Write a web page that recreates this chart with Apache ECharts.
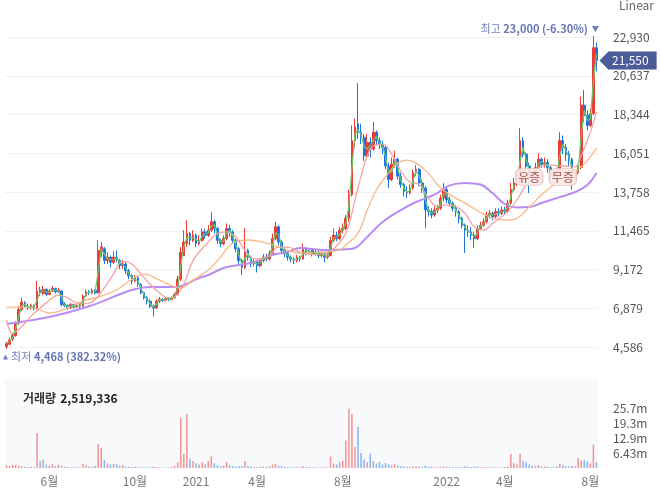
<!DOCTYPE html>
<html>
<head>
<meta charset="utf-8">
<script src="https://cdn.jsdelivr.net/npm/echarts@6/dist/echarts.min.js"></script>
<style>
html,body{margin:0;padding:0;background:#fff}
#chart{width:661px;height:494px}
</style>
</head>
<body>
<div id="chart"></div>
<script>
// 봉 하나 = 약 3거래일 (2020.4 ~ 2022.8)
var opens = [
    4600,4750,5050,5250,6000,6800,7200,7000,6900,7050,
    6850,7950,7750,8000,7700,7900,8050,7850,7900,7150,
    7050,6900,7100,6950,7050,7000,7600,7850,7800,7950,
    7800,10200,10400,9700,9900,9600,9900,9700,9400,9500,
    9100,8800,8500,8700,8300,7800,7500,7300,7000,6900,
    7300,7400,7350,7450,7400,7500,7700,8600,10000,10700,
    11300,10900,11200,10700,10900,11400,11200,11500,12000,11600,
    10900,10700,11000,11600,11400,10900,10400,9700,9300,10300,
    9900,9500,9600,9400,9700,9900,9800,10100,11000,11700,
    10800,10300,10100,9900,9800,9700,9900,9800,10400,10200,
    10300,10100,10200,10000,10100,9900,10000,10900,11200,11000,
    11500,11600,12200,13600,16800,17800,17300,17000,15900,16700,
    16300,17300,16800,16600,16400,15300,14500,15400,15700,14700,
    14200,13800,13700,14000,14900,15100,14300,14000,12700,12600,
    12400,12700,12800,13400,13900,13300,13100,12800,12600,12200,
    11800,11500,11400,11200,11000,11600,11800,12000,12400,12500,
    12300,12600,12500,12700,12600,13100,13900,14300,14400,16800,
    16000,15300,14800,14600,15200,15700,15400,15500,15200,14800,
    14500,15000,16800,16400,16000,15700,14600,14900,15200,18900,
    18300,17700,18400,22300
];
var closes = [
    4800,5000,5300,6000,6800,7250,7000,6900,7050,6850,
    7900,7800,8000,7700,7900,8050,7850,7950,7100,7050,
    6900,7100,6950,7050,7000,7600,7850,7800,7950,7800,
    10300,10500,9700,9900,9600,9900,9800,9400,9500,9100,
    8800,8500,8700,8300,7800,7500,7300,7000,6900,7300,
    7400,7350,7450,7400,7500,7700,8600,10200,10800,11300,
    10900,11200,10700,10900,11400,11200,11500,12000,11600,10900,
    10700,11000,11600,11400,10900,10400,9700,9300,10300,9900,
    9500,9600,9400,9700,9900,9800,10100,11000,11700,10800,
    10300,10100,9900,9800,9700,9900,9800,10400,10200,10300,
    10100,10200,10000,10100,9900,10000,10900,11200,11000,11500,
    11600,12200,13600,16800,17600,17300,17000,15900,16700,16300,
    17300,16800,16600,16400,15300,14500,15400,15700,14700,14200,
    13800,13700,14000,14900,15100,14300,14000,12700,12600,12400,
    12700,12800,13400,13900,13300,13100,12800,12600,12200,11800,
    11500,11400,11200,11000,11600,11800,12000,12400,12500,12300,
    12600,12500,12700,12600,13100,13900,14300,14400,16800,16000,
    15300,14800,14600,15200,15700,15400,15500,15200,14800,14500,
    15000,16800,16400,16000,15700,14600,14900,15200,18900,18300,
    17700,18400,22300,21550
];
var lows = [
    4468,4700,4950,5200,5900,6700,6900,6800,6800,6750,
    6800,7600,7650,7600,7650,7850,7750,7800,7000,6950,
    6800,6850,6850,6900,6900,6950,7550,7650,7700,7700,
    7750,9900,9500,9500,9300,9500,9600,9200,9200,8900,
    8600,8300,8400,8150,7700,7400,7100,6900,6400,6850,
    7200,7250,7300,7300,7350,7450,7650,8500,10200,10500,
    10600,10800,10500,10600,10800,11000,11100,11400,11300,10700,
    10500,10600,10900,11100,10700,10200,9500,8850,9200,9700,
    9300,9350,9000,9300,9600,9650,9700,10000,10900,10600,
    10200,9900,9700,9600,9500,9600,9650,9750,10000,10050,
    9950,10000,9850,9900,9600,9800,9950,10800,10850,10900,
    11300,11500,12000,13500,16400,16900,16600,15600,15700,15800,
    16200,16500,16300,16000,15100,14000,14400,15200,14500,14000,
    13500,13400,13600,13900,14700,14100,13700,11630,12300,12200,
    12300,12500,12700,13200,13100,12900,12600,12300,11900,11600,
    10150,11100,10900,10450,10900,11500,11700,11900,12200,12100,
    12200,12300,12400,12400,12500,13000,13800,14100,14300,15800,
    15000,13700,14300,14500,15100,15200,15200,14900,14500,14200,
    14300,14900,16000,15600,15300,13900,14500,14800,15100,17900,
    17400,17600,18300,20900
];
var highs = [
    4900,5150,5400,6100,7000,7500,7300,7150,7150,7100,
    8500,8150,8200,8050,8000,8200,8100,8100,7950,7250,
    7100,7200,7150,7150,7150,7700,8000,7950,8050,8000,
    10900,10800,10500,10200,10000,10250,10300,9800,9750,9600,
    9200,8900,8850,8750,8350,7850,7600,7400,7100,7400,
    7550,7500,7550,7550,7600,7800,8800,10500,11500,12100,
    11400,11500,11300,11200,11600,11600,11800,12570,12100,11700,
    11000,11200,11900,11800,11500,11000,10500,9800,11630,10400,
    10000,9800,9700,9850,10100,10100,10300,11300,12000,11800,
    10900,10500,10200,10000,9900,10050,10000,10700,10500,10450,
    10400,10350,10300,10300,10200,10200,11100,11600,11400,11700,
    11900,12400,13900,17700,18100,20200,17800,17200,17200,17000,
    17900,17400,17000,16800,16500,15500,15800,16200,15800,14900,
    14300,14100,14200,15100,15350,15200,14500,14100,12900,12800,
    12900,13000,13600,14290,14000,13500,13200,13000,12700,12300,
    11900,11800,11700,11400,11800,12000,12200,12600,12700,12600,
    12800,12800,12900,12900,13300,14300,14600,14700,17550,17000,
    16100,15500,15000,15500,16050,15800,15800,15700,15300,15000,
    15200,17300,17100,16600,16200,15800,15100,15400,19400,19790,
    18600,18700,23000,22600
];
// 거래량 (백만주)
var volumes = [
    1.2,0.9,1.4,1.3,1.1,0.8,0.5,0.4,0.5,0.4,
    15.0,3.0,3.6,1.5,1.0,1.6,0.8,1.4,1.0,0.6,
    0.4,0.3,0.3,0.3,0.3,1.7,1.2,0.6,0.5,1.0,
    10.3,8.6,3.5,2.0,1.5,1.8,1.6,1.0,1.3,0.6,
    0.5,0.4,0.5,0.3,0.3,0.2,0.3,0.3,0.6,0.4,
    0.3,0.2,0.3,0.2,0.5,1.0,2.5,21.4,6.0,23.1,
    4.0,3.0,2.0,1.5,2.5,1.5,3.0,5.0,2.0,1.2,
    0.8,1.0,2.6,1.2,0.8,0.6,0.7,0.9,3.0,1.0,
    0.6,0.5,0.4,0.5,0.6,0.5,0.8,1.5,1.8,1.0,
    0.8,0.5,0.4,0.3,0.3,0.3,0.3,0.8,0.5,0.4,
    0.3,0.3,0.2,0.3,0.3,0.3,5.0,2.0,1.5,2.5,
    3.0,11.7,25.4,23.1,9.0,17.6,6.4,3.5,2.5,6.1,
    3.0,2.0,2.5,1.5,2.2,1.6,1.2,1.5,1.0,0.8,
    0.6,0.5,0.5,0.8,0.7,0.5,0.5,1.0,0.6,0.5,
    0.4,0.3,0.5,0.8,0.5,0.4,0.3,0.3,0.3,0.4,
    0.8,0.5,0.4,0.6,0.5,0.4,0.3,0.4,0.3,0.3,
    0.3,0.3,0.3,0.4,0.6,6.0,2.0,1.5,6.1,3.0,
    2.5,1.5,1.0,0.8,1.2,0.6,0.7,0.5,0.4,0.4,
    0.8,1.8,1.2,0.8,0.6,0.9,0.7,4.3,3.2,3.5,
    2.8,2.0,10.0,2.519336
];
// 이동평균선 (그림에서 읽은 값, [봉 번호, 가격])
var ma20 = [[0,6200],[2,5400],[5,5800],[8,6400],[11,6900],[13,7200],[17,7650],[20,7500],[23,7200],[26,7150],
    [29,7400],[32,8100],[35,8900],[38,9650],[41,9500],[44,8900],[47,8300],[50,7800],[53,7500],[55,7550],
    [58,8300],[61,9700],[66,10800],[69,11300],[72,11400],[75,11100],[78,10300],[81,9800],[85,9850],[89,10500],
    [92,10500],[96,10200],[100,10050],[104,10100],[107,10400],[110,11000],[112,11800],[114,13300],[116,14700],[118,15900],
    [120,16500],[123,16600],[126,16000],[129,15000],[132,14350],[135,14200],[138,13400],[141,12900],[144,13000],[147,12900],
    [150,12500],[153,11700],[156,11500],[159,11900],[164,12600],[167,13300],[171,14500],[174,15200],[178,15350],[182,15300],
    [186,15250],[188,15900],[191,17300],[193,18500]];
var ma60 = [[0,6950],[4,6950],[9,6900],[14,6600],[20,6900],[25,7300],[31,7600],[36,7960],[41,8600],[45,8900],
    [50,8550],[55,8140],[57,8080],[61,8550],[66,9140],[70,9910],[74,10740],[79,10920],[85,10740],[90,10450],
    [96,10150],[104,10200],[109,10330],[111,10620],[115,11330],[118,12690],[121,13880],[125,14880],[128,15470],[131,15650],
    [134,15470],[138,14880],[142,14000],[146,13500],[150,13100],[155,12550],[159,12220],[164,12100],[167,12200],[171,12870],
    [175,13580],[179,14170],[184,14770],[188,15240],[191,15830],[193,16360]];
var ma120 = [[0,5950],[14,6360],[27,7000],[41,7960],[47,8140],[56,8140],[58,8260],[63,8670],[66,8850],[72,9320],
    [80,9560],[87,10030],[92,10210],[96,10450],[104,10330],[113,10400],[118,11100],[123,11990],[129,12690],[134,13170],
    [140,13600],[145,14150],[150,14300],[155,14200],[159,13700],[163,13050],[167,12850],[171,12870],[175,13110],[181,13460],
    [186,13760],[190,14170],[193,14880]];

var monthTicks = [[14,'6월'],[42,'10월'],[62,'2021'],[82,'4월'],[110,'8월'],[144,'2022'],[163,'4월'],[191,'8월']];
var priceTicks = [4586,6879,9172,11465,13758,16051,18344,20637,22930];
var volumeTicks = [6.43,12.86,19.29,25.72];
var events = [[171,14650,'유증'],[182,14650,'무증']];
var lastPrice = 21550, highPrice = 23000, lowPrice = 4468, lastVolume = 2519336;

var UP = '#ec3a36', DOWN = '#1f74e4';
var FONT = '"Noto Sans CJK KR", sans-serif';

var categories = [], candleData = [], volumeData = [], ma5 = [];
for (var i = 0; i < closes.length; i++) {
    categories.push(i);
    candleData.push([opens[i], closes[i], lows[i], highs[i]]);
    volumeData.push({
        value: volumes[i],
        itemStyle: {color: closes[i] >= opens[i] ? '#f29494' : '#84b6f2'}
    });
    var prev = i > 0 ? closes[i - 1] : closes[i];
    ma5.push((prev + closes[i]) / 2);
}
var tickMap = {};
monthTicks.forEach(function (t) { tickMap[t[0]] = t[1]; });

var highIdx = highs.indexOf(highPrice), lowIdx = lows.indexOf(lowPrice);
var highPct = ((lastPrice - highPrice) / highPrice * 100).toFixed(2);
var lowPct = ((lastPrice - lowPrice) / lowPrice * 100).toFixed(2);
function fmt(v) { return v.toLocaleString('en-US'); }

var markRich = {
    a: {color: '#7282bb', fontSize: 11, fontFamily: FONT},
    b: {color: '#6575b2', fontSize: 11, fontWeight: 'bold', fontFamily: FONT}
};

var chart = echarts.init(document.getElementById('chart'));
chart.setOption({
    animation: false,
    textStyle: {fontFamily: FONT},
    title: [
        {text: 'Linear', right: 2, top: -6, textStyle: {fontSize: 12, fontWeight: 'normal', color: '#666', fontFamily: FONT}},
        {text: '{a|거래량} {b|' + fmt(lastVolume) + '}', left: 18, top: 384,
            textStyle: {rich: {
                a: {fontSize: 12, color: '#333', fontFamily: FONT},
                b: {fontSize: 12, color: '#222', fontWeight: 'bold', fontFamily: FONT}
            }}}
    ],
    grid: [
        {left: 5, right: 63, top: 20, height: 342},
        {left: 5, right: 63, top: 379, height: 89, show: true, backgroundColor: '#f8f9fb', borderWidth: 0}
    ],
    xAxis: [
        {type: 'category', gridIndex: 0, data: categories, boundaryGap: true,
            axisLine: {show: false}, axisTick: {show: false}, axisLabel: {show: false}, splitLine: {show: false}},
        {type: 'category', gridIndex: 1, data: categories, boundaryGap: true,
            axisLine: {show: false}, axisTick: {show: false}, splitLine: {show: false},
            axisLabel: {
                margin: 7, color: '#777', fontSize: 12, fontFamily: FONT,
                interval: function (idx) { return tickMap[idx] !== undefined; },
                formatter: function (v, idx) { return tickMap[idx] || ''; }
            }}
    ],
    yAxis: [
        {type: 'value', gridIndex: 0, position: 'right', min: 3700, max: 23940, scale: true,
            axisLine: {show: false},
            axisTick: {show: false, customValues: priceTicks},
            splitLine: {show: true, lineStyle: {color: '#eef0f3', width: 1}},
            axisLabel: {customValues: priceTicks, margin: 15, color: '#555', fontSize: 12, fontFamily: FONT,
                formatter: function (v) { return fmt(v); }}},
        {type: 'value', gridIndex: 1, position: 'right', min: 0, max: 38.15,
            axisLine: {show: false},
            axisTick: {show: false, customValues: volumeTicks},
            splitLine: {show: false},
            axisLabel: {customValues: volumeTicks, margin: 15, color: '#555', fontSize: 12, fontFamily: FONT,
                formatter: function (v) { return (v >= 10 ? v.toFixed(1) : v.toFixed(2)) + 'm'; }}}
    ],
    series: [
        {
            name: '가격', type: 'candlestick', xAxisIndex: 0, yAxisIndex: 0, data: candleData,
            barWidth: '72%', z: 2,
            itemStyle: {color: UP, color0: DOWN, borderColor: UP, borderColor0: DOWN, borderWidth: 1},
            markPoint: {
                silent: true, animation: false,
                data: [
                    {coord: [highIdx, highPrice], symbol: 'triangle', symbolRotate: 180, symbolSize: [7, 6],
                        symbolOffset: [2, -7], itemStyle: {color: '#6e7eb8'},
                        label: {show: true, position: 'left', distance: 4, rich: markRich,
                            formatter: '{a|최고} {b|' + fmt(highPrice) + ' (' + highPct + '%)}'}},
                    {coord: [lowIdx, lowPrice], symbol: 'triangle', symbolSize: [5, 5],
                        symbolOffset: [-1, 8], itemStyle: {color: '#6e7eb8'},
                        label: {show: true, position: 'right', distance: 3, rich: markRich,
                            formatter: '{a|최저} {b|' + fmt(lowPrice) + ' (' + lowPct + '%)}'}},
                    {coord: [closes.length - 1, lastPrice], symbol: 'triangle', symbolRotate: 90,
                        symbolSize: [18, 9], symbolOffset: [7.5, 0], itemStyle: {color: '#4b5c98'},
                        label: {show: false}}
                ].concat(events.map(function (e) {
                    return {coord: [e[0], e[1]], symbol: 'roundRect', symbolSize: [27, 17],
                        itemStyle: {color: 'rgba(251,233,231,0.92)', borderColor: '#e9c6c2', borderWidth: 1},
                        label: {show: true, position: 'inside', formatter: e[2], color: '#a8544c', fontSize: 12, fontFamily: FONT}};
                }))
            },
            markLine: {
                silent: true, animation: false, symbol: ['none', 'none'],
                lineStyle: {width: 0, color: 'rgba(0,0,0,0)'},
                label: {show: true, position: 'end', distance: 10, formatter: fmt(lastPrice),
                    backgroundColor: '#4b5c98', color: '#fff', fontSize: 12, lineHeight: 12,
                    padding: [3, 8, 3, 4], fontFamily: FONT},
                data: [{yAxis: lastPrice}]
            }
        },
        {name: 'MA120', type: 'line', xAxisIndex: 0, yAxisIndex: 0, data: ma120, smooth: 0.4, showSymbol: false, z: 3,
            lineStyle: {color: '#b98cf3', width: 2}},
        {name: 'MA60', type: 'line', xAxisIndex: 0, yAxisIndex: 0, data: ma60, smooth: 0.4, showSymbol: false, z: 3,
            lineStyle: {color: '#f9b986', width: 1.3}},
        {name: 'MA20', type: 'line', xAxisIndex: 0, yAxisIndex: 0, data: ma20, smooth: 0.4, showSymbol: false, z: 3,
            lineStyle: {color: '#f5a3a3', width: 1.3}},
        {name: 'MA5', type: 'line', xAxisIndex: 0, yAxisIndex: 0, data: ma5, smooth: false, showSymbol: false, z: 3,
            lineStyle: {color: '#67cc6a', width: 1.2}},
        {name: '거래량', type: 'bar', xAxisIndex: 1, yAxisIndex: 1, data: volumeData, barWidth: '50%'}
    ]
});
</script>
</body>
</html>
